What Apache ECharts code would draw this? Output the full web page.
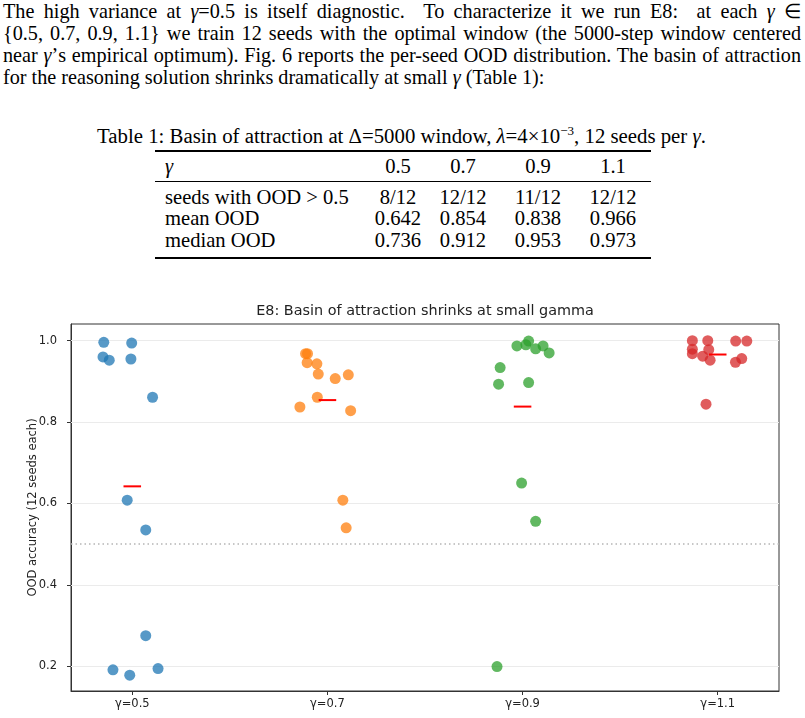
<!DOCTYPE html>
<html>
<head>
<meta charset="utf-8">
<script src="https://cdn.jsdelivr.net/npm/echarts@6/dist/echarts.min.js"></script>
<style>
  body { margin: 0; width: 805px; height: 718px; background: #fff; position: relative; overflow: hidden;
         font-family: "Liberation Serif", "Times New Roman", serif; color: #000; }
  .para { position: absolute; left: 3px; width: 798px; font-size: 20.2px; line-height: 22px; white-space: nowrap; }
  .just { text-align: justify; text-align-last: justify; white-space: normal; }
  .cap { position: absolute; top: 123px; left: 0; width: 803px; text-align: center; font-size: 20.8px; }
  .rule { position: absolute; left: 155px; width: 496px; background: #000; }
  .cell { position: absolute; font-size: 20.6px; line-height: 22px; white-space: nowrap; }
  #chart { position: absolute; left: 0; top: 290px; width: 805px; height: 428px; }
</style>
</head>
<body>
<div class="para just" style="top:0">The high variance at <i>γ</i>=0.5 is itself diagnostic. &nbsp;To characterize it we run E8: &nbsp;at each <i>γ</i> &isin;</div>
<div class="para just" style="top:22px">{0.5, 0.7, 0.9, 1.1} we train 12 seeds with the optimal window (the 5000-step window centered</div>
<div class="para just" style="top:44px">near <i>γ</i>’s empirical optimum). Fig. 6 reports the per-seed OOD distribution. The basin of attraction</div>
<div class="para" style="top:66px">for the reasoning solution shrinks dramatically at small <i>γ</i> (Table 1):</div>

<div class="cap">Table 1: Basin of attraction at Δ=5000 window, <i>λ</i>=4×10<sup style="font-size:13px">−3</sup>, 12 seeds per <i>γ</i>.</div>
<div class="rule" style="top:150px;height:1.6px"></div>
<div class="rule" style="top:181px;height:1px"></div>
<div class="rule" style="top:257px;height:1.6px"></div>
<div id="tbl"></div>
<div id="chart"></div>

<script>
// table rows
const gammaHeader = ['0.5', '0.7', '0.9', '1.1'];
const seedsAbove = ['8/12', '12/12', '11/12', '12/12'];
const meanOOD = [0.642, 0.854, 0.838, 0.966];
const medianOOD = [0.736, 0.912, 0.953, 0.973];

// per-seed OOD accuracy, with the horizontal jitter used in the plot
const gammaLabels = ['γ=0.5', 'γ=0.7', 'γ=0.9', 'γ=1.1'];
const jitter05 = [-0.146, -0.003, -0.150, -0.118, -0.007, 0.104, -0.026, 0.069, 0.069, -0.099, -0.013, 0.132];
const ood05 = [0.996, 0.994, 0.960, 0.952, 0.955, 0.861, 0.608, 0.535, 0.275, 0.191, 0.178, 0.194];
const jitter07 = [-0.112, -0.102, -0.104, -0.054, -0.047, 0.040, 0.107, -0.052, -0.141, 0.119, 0.079, 0.096];
const ood07 = [0.968, 0.968, 0.946, 0.943, 0.918, 0.907, 0.916, 0.861, 0.837, 0.828, 0.608, 0.540];
const jitter09 = [-0.029, 0.017, 0.031, 0.067, 0.105, 0.136, -0.115, -0.123, 0.031, -0.005, 0.067, -0.131];
const ood09 = [0.987, 0.990, 0.999, 0.980, 0.987, 0.970, 0.934, 0.893, 0.897, 0.650, 0.556, 0.199];
const jitter11 = [-0.130, -0.130, -0.130, -0.051, -0.046, -0.077, -0.039, 0.092, 0.149, 0.123, 0.091, -0.060];
const ood11 = [1.000, 0.979, 0.968, 1.000, 0.978, 0.962, 0.952, 0.999, 0.999, 0.956, 0.947, 0.844];
const yTicks = [0.2, 0.4, 0.6, 0.8, 1.0];
const threshold = 0.5;

// build the table
const colX = [398, 463, 538, 613];
const rowY = [155, 186, 207, 229];
const rows = [
    ['γ', gammaHeader],
    ['seeds with OOD > 0.5', seedsAbove],
    ['mean OOD', meanOOD.map(v => v.toFixed(3))],
    ['median OOD', medianOOD.map(v => v.toFixed(3))]
];
let html = '';
rows.forEach((r, i) => {
    let label = i === 0 ? '<i>γ</i>' : r[0].replace('>', '&gt;');
    html += `<div class="cell" style="left:165px;top:${rowY[i]}px">${label}</div>`;
    r[1].forEach((v, j) => {
        html += `<div class="cell" style="left:${colX[j] - 40}px;width:80px;text-align:center;top:${rowY[i]}px">${v}</div>`;
    });
});
document.getElementById('tbl').innerHTML = html;

// chart
const groups = [
    { jit: jitter05, ood: ood05, color: '#1f77b4' },
    { jit: jitter07, ood: ood07, color: '#ff7f0e' },
    { jit: jitter09, ood: ood09, color: '#2ca02c' },
    { jit: jitter11, ood: ood11, color: '#d62728' }
];

var chartDom = document.getElementById('chart');
var chart = echarts.init(chartDom);

var series = [];
// grid lines + threshold (drawn first, underneath)
series.push({
    type: 'line',
    data: [],
    z: 1,
    markLine: {
        silent: true,
        symbol: 'none',
        z: 1,
        label: { show: false },
        data: yTicks.map(v => ({ yAxis: v, lineStyle: { color: '#ebebeb', type: 'solid', width: 1 } }))
            .concat([{ yAxis: threshold, lineStyle: { color: '#b5b5b5', type: [1.5, 3], width: 1.5 } }])
    }
});
groups.forEach((g, i) => {
    series.push({
        type: 'scatter',
        symbolSize: 11,
        itemStyle: { color: g.color, opacity: 0.75 },
        z: 10,
        data: g.ood.map((v, k) => [i + g.jit[k], v])
    });
});
groups.forEach((g, i) => {
    series.push({
        type: 'line',
        showSymbol: false,
        symbol: 'none',
        z: 11,
        lineStyle: { color: '#ff0000', width: 2 },
        data: [[i - 0.045, meanOOD[i]], [i + 0.045, meanOOD[i]]]
    });
});

var option = {
    animation: false,
    textStyle: { fontFamily: 'DejaVu Sans' },
    title: {
        text: 'E8: Basin of attraction shrinks at small gamma',
        left: 425,
        textAlign: 'center',
        top: 14,
        padding: 0,
        textStyle: { fontSize: 14.4, fontWeight: 'normal', color: '#222', fontFamily: 'DejaVu Sans' }
    },
    grid: {
        left: 71, right: 26, top: 34, bottom: 27,
        show: true, borderColor: '#333', borderWidth: 1
    },
    xAxis: {
        type: 'value',
        min: -0.314,
        max: 3.314,
        splitLine: { show: false },
        axisLine: { onZero: false, lineStyle: { color: '#333' } },
        axisTick: { customValues: [0, 1, 2, 3], length: 4, lineStyle: { color: '#333' } },
        axisLabel: {
            customValues: [0, 1, 2, 3],
            formatter: v => gammaLabels[Math.round(v)],
            fontSize: 11.5, color: '#222', margin: 7
        }
    },
    yAxis: {
        type: 'value',
        min: 0.139,
        max: 1.041,
        name: 'OOD accuracy (12 seeds each)',
        nameLocation: 'middle',
        nameGap: 32,
        nameMoveOverlap: false,
        nameTextStyle: { fontSize: 11.5, color: '#222' },
        splitLine: { show: false },
        axisLine: { show: true, onZero: false, lineStyle: { color: '#333' } },
        axisTick: { show: true, customValues: yTicks, length: 4, lineStyle: { color: '#333' } },
        axisLabel: {
            customValues: yTicks,
            formatter: v => v.toFixed(1),
            fontSize: 11.5, color: '#222', margin: 14
        }
    },
    series: series
};
chart.setOption(option);
</script>
</body>
</html>
